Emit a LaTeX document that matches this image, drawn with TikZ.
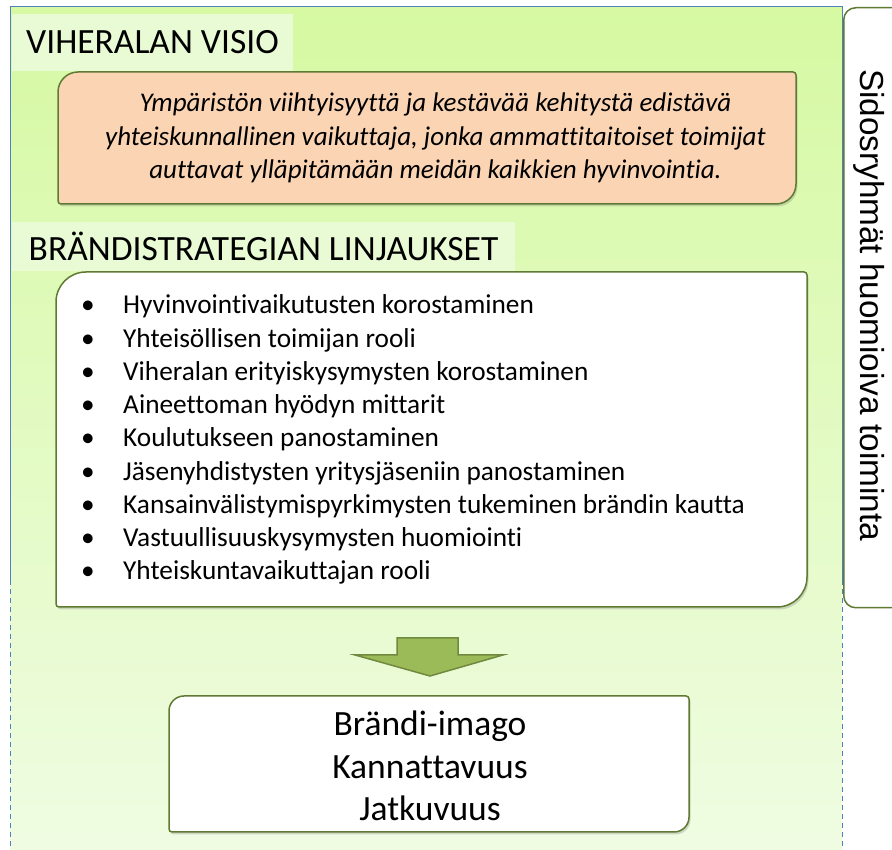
\documentclass[tikz,border=0pt]{standalone}
\usepackage{fontspec}
\setmainfont{Carlito}[Ligatures=NoCommon]
\newfontfamily\sidefont{Liberation Sans}
\usetikzlibrary{shadows}

\definecolor{panelTop}{HTML}{D6F9A2}
\definecolor{panelBot}{HTML}{EFFCE2}
\definecolor{headFill}{HTML}{E9FBD4}
\definecolor{peach}{HTML}{FBD4B4}
\definecolor{olive}{HTML}{5F7A32}
\definecolor{arrowFill}{HTML}{9BBB59}
\definecolor{arrowLine}{HTML}{71893F}
\definecolor{frameBlue}{HTML}{4F81BD}

% box with two big rounded corners (top left, bottom right)
\newcommand\diagbox[3]{%
  \draw[#3] ([yshift=-#2]#1.north west) arc[start angle=180,end angle=90,radius=#2]
    -- ([xshift=-3pt]#1.north east) arc[start angle=90,end angle=0,radius=3pt]
    -- ([yshift=#2]#1.south east) arc[start angle=0,end angle=-90,radius=#2]
    -- ([xshift=3pt]#1.south west) arc[start angle=270,end angle=180,radius=3pt]
    -- cycle;}

\begin{document}
\begin{tikzpicture}[x=1pt,y=1pt,
  heading/.style={fill=headFill,inner sep=0pt,font=\fontsize{35.5}{42}\selectfont},
  frame/.style={inner sep=0pt,outer sep=0pt},
  boxline/.style={draw=olive,line width=1.5pt,
    drop shadow={shadow xshift=1.5pt,shadow yshift=-2.5pt,opacity=0.3}},
  itemtext/.style={anchor=base west,inner sep=0pt,font=\fontsize{27.3}{30}\selectfont},
  bigtext/.style={align=center,font=\fontsize{35.5}{42.5}\selectfont}]
\useasboundingbox (0,0) rectangle (892,850);

% green background panel
\shade[top color=panelTop,bottom color=panelBot] (10,0) rectangle (842,843);
\draw[frameBlue,line width=1pt] (10,270) -- (10,843) -- (842,843) -- (842,270);
\draw[frameBlue,line width=1pt,dash pattern=on 5pt off 4pt] (10,270) -- (10,0);
\draw[frameBlue,line width=1pt,dash pattern=on 5pt off 4pt] (842,270) -- (842,0);

% vision
\node[heading,minimum width=281pt,minimum height=57pt] (visiohead) at (152.5,807.5) {VIHERALAN VISIO};
\node[frame,minimum width=738pt,minimum height=132pt] (visio) at (427,712) {};
\diagbox{visio}{20pt}{boxline,fill=peach}
\node[align=center,font=\fontsize{27}{33.5}\selectfont\itshape] (visiotext) at (435.5,712)
  {Ympäristön viihtyisyyttä ja kestävää kehitystä edistävä\\
   yhteiskunnallinen vaikuttaja, jonka ammattitaitoiset toimijat\\
   auttavat ylläpitämään meidän kaikkien hyvinvointia.};

% strategy
\node[heading,minimum width=503pt,minimum height=49pt] (linjhead) at (263.5,603.5) {BRÄNDISTRATEGIAN LINJAUKSET};
\node[frame,minimum width=751pt,minimum height=335pt] (linj) at (431.5,410.5) {};
\diagbox{linj}{30pt}{boxline,fill=white}
\foreach \txt [count=\i] in {Hyvinvointivaikutusten korostaminen,
    Yhteisöllisen toimijan rooli,
    Viheralan erityiskysymysten korostaminen,
    Aineettoman hyödyn mittarit,
    Koulutukseen panostaminen,
    Jäsenyhdistysten yritysjäseniin panostaminen,
    Kansainvälistymispyrkimysten tukeminen brändin kautta,
    Vastuullisuuskysymysten huomiointi,
    Yhteiskuntavaikuttajan rooli}{
  \node[itemtext,anchor=base] (dot\i) at (88,{536-33.25*(\i-1)}) {•};
  \node[itemtext] (item\i) at (123,{536-33.25*(\i-1)}) {\txt};
}

% arrow down
\coordinate (tip) at (430,174);
\draw[fill=arrowFill,draw=arrowLine,line width=1.5pt,line join=miter]
  (397,212) -- (458,212) -- (458,195) -- (503,195) -- (tip) -- (355,195) -- (397,195) -- cycle;

% result
\node[frame,minimum width=520pt,minimum height=136pt] (tulos) at (429,86) {};
\diagbox{tulos}{15pt}{boxline,fill=white}
\node[bigtext] (tulostext) at (430,84) {Brändi-imago\\Kannattavuus\\Jatkuvuus};

% side box
\node[draw=olive,line width=1.5pt,fill=white,rounded corners=12pt,anchor=north west,
  minimum width=70pt,minimum height=600pt] (sidos) at (843,843) {};
\node[rotate=-90,font=\sidefont\fontsize{33.3}{38}\selectfont] (sidostext) at (869,545)
  {Sidosryhmät huomioiva toiminta};
\end{tikzpicture}
\end{document}
